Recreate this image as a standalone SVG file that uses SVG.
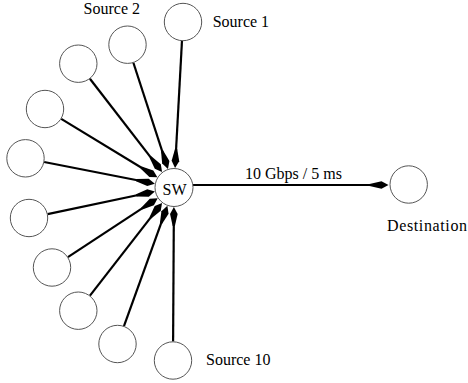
<svg xmlns="http://www.w3.org/2000/svg" width="468" height="383" viewBox="0 0 468 383">
<style>
.n{fill:#fff;stroke:#555;stroke-width:1}
.t{font-size:16px;fill:#000}
.e{stroke:#000;stroke-width:2.2;fill:none;marker-end:url(#k)}
</style>
<defs>
<marker id="k" markerUnits="userSpaceOnUse" viewBox="-20 -5 21 10" refX="-5" refY="0" markerWidth="21" markerHeight="10" orient="auto">
<path d="M0,0 L-7,-3.8 L-19,-1.1 L-19,1.1 L-7,3.8 Z" fill="#000"/>
</marker>
</defs>
<g id="connectors">
<line class="e" x1="181.97" y1="40.97" x2="175.33" y2="163.04"/>
<line class="e" x1="133.38" y1="62.77" x2="166.41" y2="164.2"/>
<line class="e" x1="89.92" y1="78.73" x2="159.02" y2="168.12"/>
<line class="e" x1="61.23" y1="118.88" x2="153.07" y2="174.76"/>
<line class="e" x1="44.14" y1="161.97" x2="149.96" y2="182.77"/>
<line class="e" x1="47.59" y1="214.09" x2="150.02" y2="192.54"/>
<line class="e" x1="67.89" y1="257.08" x2="153.51" y2="200.94"/>
<line class="e" x1="89.96" y1="295.7" x2="158.97" y2="206.85"/>
<line class="e" x1="123.95" y1="326.13" x2="165.68" y2="210.54"/>
<line class="e" x1="173.1" y1="341.5" x2="173.86" y2="212"/>
<line class="e" x1="193" y1="185" x2="383.5" y2="185"/>
<text class="t" font-family="Liberation Serif, Times New Roman, serif" x="245" y="179">10 Gbps / 5 ms</text>
</g>
<g id="sw"><circle class="n" cx="174" cy="187.5" r="19"/><text class="t" font-family="Liberation Serif, Times New Roman, serif" x="174.5" y="195" text-anchor="middle">SW</text></g>
<g id="dest"><circle class="n" cx="408.7" cy="184.5" r="18.7"/><text class="t" font-family="Liberation Serif, Times New Roman, serif" x="387" y="231" textLength="80" lengthAdjust="spacing">Destination</text></g>
<g id="s1"><circle class="n" cx="183" cy="22" r="18.7"/><text class="t" font-family="Liberation Serif, Times New Roman, serif" x="212.7" y="27">Source 1</text></g>
<g id="s2"><circle class="n" cx="127.5" cy="44.7" r="18.7"/><text class="t" font-family="Liberation Serif, Times New Roman, serif" x="140" y="13.5" text-anchor="end">Source 2</text></g>
<g id="s3"><circle class="n" cx="78.3" cy="63.7" r="18.7"/></g>
<g id="s4"><circle class="n" cx="45" cy="109" r="18.7"/></g>
<g id="s5"><circle class="n" cx="25.5" cy="158.3" r="18.7"/></g>
<g id="s6"><circle class="n" cx="29" cy="218" r="18.7"/></g>
<g id="s7"><circle class="n" cx="52" cy="267.5" r="18.7"/></g>
<g id="s8"><circle class="n" cx="78.3" cy="310.7" r="18.7"/></g>
<g id="s9"><circle class="n" cx="117.5" cy="344" r="18.7"/></g>
<g id="s10"><circle class="n" cx="173" cy="360.5" r="18.7"/><text class="t" font-family="Liberation Serif, Times New Roman, serif" x="206" y="365">Source 10</text></g>
</svg>
